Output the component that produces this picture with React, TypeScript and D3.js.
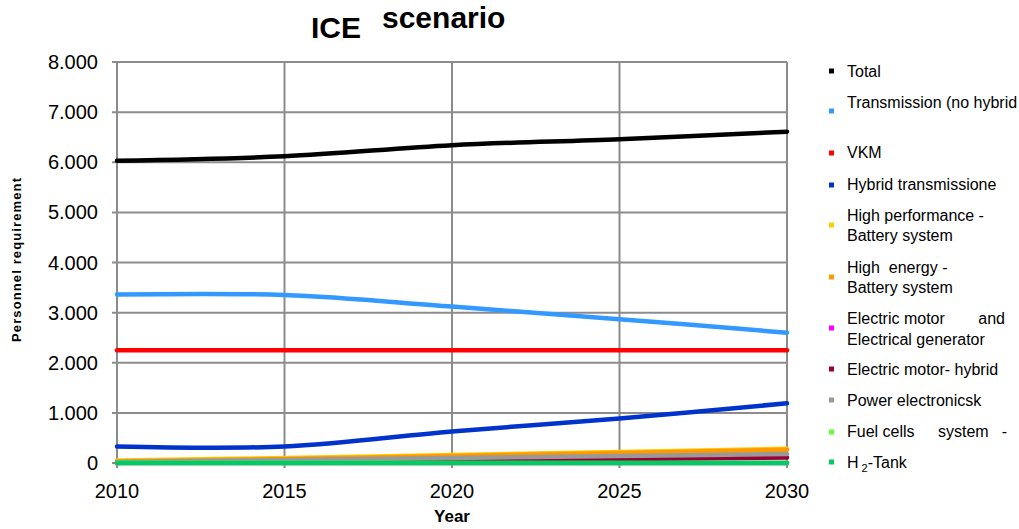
import React from "react";
import * as d3 from "d3";

// Years on the horizontal axis
const years = [2010, 2015, 2020, 2025, 2030];

// Personnel requirement per component (persons)
const total = [6030, 6120, 6340, 6460, 6610];
const transmission = [3360, 3350, 3120, 2870, 2600];
const vkm = [2250, 2250, 2250, 2250, 2250];
const hybridTransmission = [330, 330, 630, 890, 1190];
const highPerformanceBattery = [50, 100, 160, 220, 285];
const highEnergyBattery = [30, 80, 140, 200, 265];
const electricMotorGenerator = [0, 0, 0, 0, 0];
const electricMotorHybrid = [10, 30, 55, 80, 110];
const powerElectronics = [20, 60, 100, 140, 180];
const fuelCells = [0, 0, 0, 0, 0];
const h2Tank = [0, 0, 0, 0, 0];

const yTicks = [0, 1000, 2000, 3000, 4000, 5000, 6000, 7000, 8000];
const yTickLabels = ["0", "1.000", "2.000", "3.000", "4.000", "5.000", "6.000", "7.000", "8.000"];

const seriesNames = [
  "Total",
  "Transmission (no hybrid",
  "VKM",
  "Hybrid transmissione",
  "High performance - Battery system",
  "High  energy - Battery system",
  "Electric motor and Electrical generator",
  "Electric motor- hybrid",
  "Power electronicsk",
  "Fuel cells system -",
  "H2-Tank",
];
const seriesValues = [
  total,
  transmission,
  vkm,
  hybridTransmission,
  highPerformanceBattery,
  highEnergyBattery,
  electricMotorGenerator,
  electricMotorHybrid,
  powerElectronics,
  fuelCells,
  h2Tank,
];
const seriesColors = [
  "#000000",
  "#3399FF",
  "#FF0000",
  "#0033CC",
  "#FFCC00",
  "#FF9900",
  "#FF00FF",
  "#990033",
  "#999999",
  "#66FF33",
  "#00CC66",
];

const W = 1019;
const H = 529;
const plot = { left: 117, right: 787, top: 62, bottom: 463 };
const FONT = "Arial, 'Liberation Sans', Helvetica, sans-serif";

export default function App() {
  const x = d3.scaleLinear().domain([2010, 2030]).range([plot.left, plot.right]);
  const y = d3.scaleLinear().domain([0, 8000]).range([plot.bottom, plot.top]);
  const line = d3
    .line<number>()
    .x((_, i) => x(years[i]))
    .y((v) => y(v))
    .curve(d3.curveCardinal.tension(0));

  const grid = "#8c8c8c";
  const legendX = 847;
  const markerX = 829;

  // Legend rows: marker y and text lines (each line with baseline y)
  const legendRows: { my: number; lines: React.ReactNode[] }[] = [
    { my: 71, lines: [<text key="a" x={legendX} y={77}>Total</text>] },
    { my: 111, lines: [<text key="a" x={legendX} y={108}>Transmission (no hybrid</text>] },
    { my: 153, lines: [<text key="a" x={legendX} y={158}>VKM</text>] },
    { my: 185, lines: [<text key="a" x={legendX} y={190}>Hybrid transmissione</text>] },
    {
      my: 225,
      lines: [
        <text key="a" x={legendX} y={221}>High performance -</text>,
        <text key="b" x={legendX} y={241}>Battery system</text>,
      ],
    },
    {
      my: 277,
      lines: [
        <text key="a" x={legendX} y={273} style={{ whiteSpace: "pre" }}>{"High  energy -"}</text>,
        <text key="b" x={legendX} y={293}>Battery system</text>,
      ],
    },
    {
      my: 328,
      lines: [
        <text key="a" x={legendX} y={324}>Electric motor</text>,
        <text key="c" x={1005} y={324} textAnchor="end">and</text>,
        <text key="b" x={legendX} y={345}>Electrical generator</text>,
      ],
    },
    { my: 369, lines: [<text key="a" x={legendX} y={375}>Electric motor- hybrid</text>] },
    { my: 400, lines: [<text key="a" x={legendX} y={406}>Power electronicsk</text>] },
    {
      my: 432,
      lines: [
        <text key="a" x={legendX} y={437}>Fuel cells</text>,
        <text key="b" x={938} y={437}>system</text>,
        <text key="c" x={1007} y={437} textAnchor="end">-</text>,
      ],
    },
    {
      my: 462,
      lines: [
        <text key="a" x={legendX} y={468}>
          H<tspan dx={3} dy={4} fontSize={11}>2</tspan>
          <tspan dy={-4}>-Tank</tspan>
        </text>,
      ],
    },
  ];

  return (
    <svg
      width={W}
      height={H}
      style={{ position: "absolute", left: 0, top: 0, background: "#fff" }}
      fontFamily={FONT}
    >
      <rect width={W} height={H} fill="#fff" />

      {/* Title */}
      <text x={311} y={38} fontSize={30} fontWeight="bold">ICE</text>
      <text x={382} y={28} fontSize={30} fontWeight="bold">scenario</text>

      {/* Horizontal gridlines with outside ticks */}
      {yTicks.map((t) => (
        <line key={t} x1={plot.left - 5} x2={plot.right} y1={y(t)} y2={y(t)} stroke={grid} strokeWidth={2} />
      ))}
      {/* Vertical gridlines with outside ticks */}
      {years.map((yr) => (
        <line key={yr} x1={x(yr)} x2={x(yr)} y1={plot.top} y2={plot.bottom + 5} stroke={grid} strokeWidth={2} />
      ))}

      {/* Y tick labels */}
      {yTicks.map((t, i) => (
        <text key={t} x={98} y={y(t) + 7} fontSize={20} textAnchor="end">
          {yTickLabels[i]}
        </text>
      ))}
      {/* X tick labels */}
      {years.map((yr) => (
        <text key={yr} x={x(yr)} y={498} fontSize={20} textAnchor="middle">
          {yr}
        </text>
      ))}

      {/* Axis titles */}
      <text x={(plot.left + plot.right) / 2} y={522} fontSize={17} fontWeight="bold" textAnchor="middle">
        Year
      </text>
      <text
        transform={`translate(21, ${(178 + 342) / 2}) rotate(-90)`}
        fontSize={13}
        fontWeight="bold"
        textAnchor="middle"
        textLength={164}
        lengthAdjust="spacing"
      >
        Personnel requirement
      </text>

      {/* Series lines */}
      {seriesValues.map((vals, i) => (
        <path
          key={seriesNames[i]}
          d={line(vals) || ""}
          fill="none"
          stroke={seriesColors[i]}
          strokeWidth={4.5}
          strokeLinecap="round"
        />
      ))}

      {/* Legend */}
      <g fontSize={16} fill="#000">
        {legendRows.map((row, i) => (
          <g key={seriesNames[i]}>
            <rect x={markerX} y={row.my - 2.5} width={5} height={5} fill={seriesColors[i]} />
            {row.lines}
          </g>
        ))}
      </g>
    </svg>
  );
}
